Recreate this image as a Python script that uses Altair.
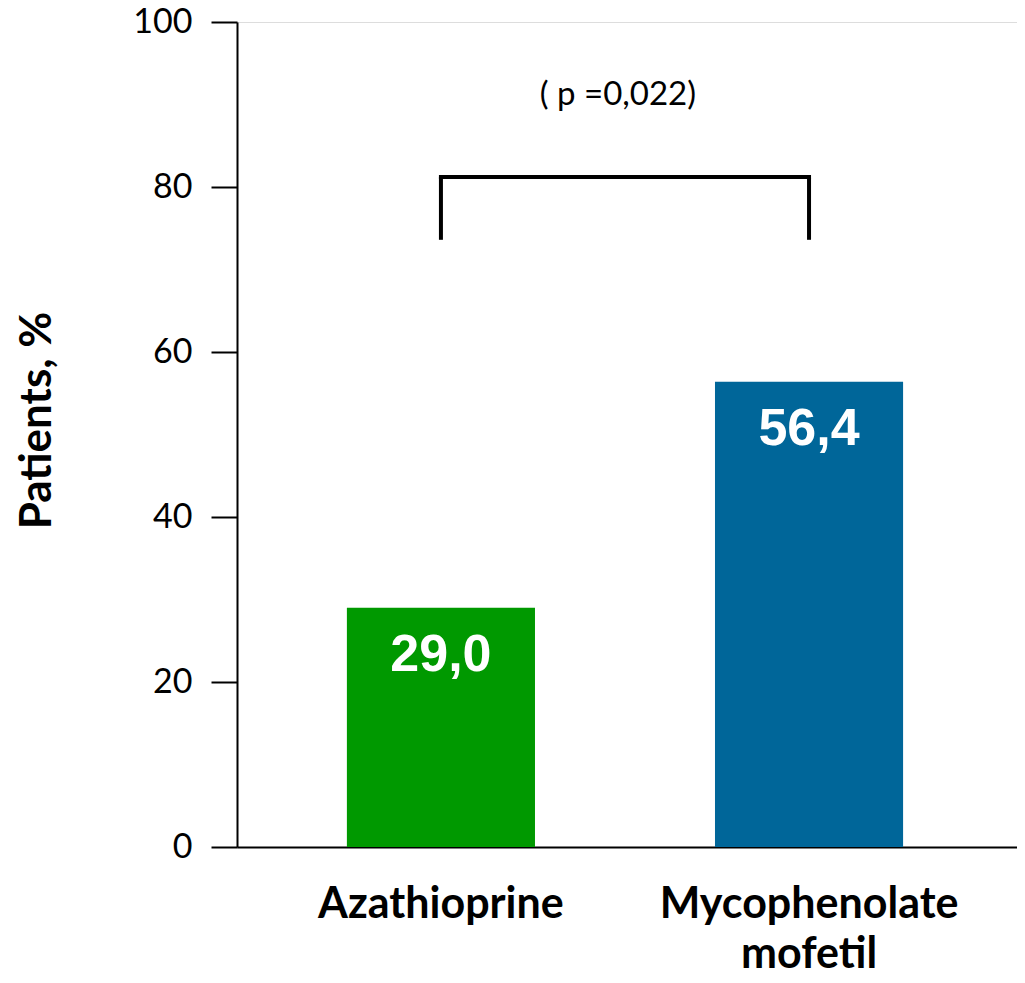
import altair as alt
import pandas as pd

categories = ["Azathioprine", "Mycophenolate mofetil"]
values = [29.0, 56.4]
value_labels = ["29,0", "56,4"]
colors = ["#009900", "#006699"]
y_ticks = [0, 20, 40, 60, 80, 100]
bracket_top = 81.2
bracket_bottom = 73.6
p_label = "( p =0,022)"
p_label_y = 90.0

df = pd.DataFrame({"cat": categories, "value": values, "label": value_labels})
bracket_h = pd.DataFrame({"from": [categories[0]], "to": [categories[1]], "y": [bracket_top]})
bracket_v = pd.DataFrame({"cat": categories, "y": [bracket_bottom] * 2, "y2": [bracket_top] * 2})
ptext = pd.DataFrame({"cat": [categories[0]], "y": [p_label_y], "text": [p_label]})

x_scale = alt.Scale(domain=categories, paddingInner=0.489, paddingOuter=0.304, align=0.491)
y_scale = alt.Scale(domain=[0, 100], nice=False, zero=True)

x_axis = alt.Axis(
    title=None, ticks=False, labelAngle=0,
    labelExpr="split(datum.label, ' ')",
    labelFont="Lato", labelFontWeight="bold", labelFontSize=43, labelColor="black",
    labelBaseline="alphabetic", labelPadding=70, labelLineHeight=50, labelLimit=600,
    domainColor="black", domainWidth=2, grid=False,
)
y_axis = alt.Axis(
    title="Patients, %", values=y_ticks, grid=False,
    titleFont="Lato", titleFontWeight="bold", titleFontSize=44, titleColor="black",
    titleAngle=-90, titleX=-187, titleY=398, titleBaseline="alphabetic", titleAlign="center",
    labelFont="Lato", labelFontSize=34, labelColor="black", labelPadding=19,
    tickSize=26, tickWidth=2, tickColor="black",
    domainColor="black", domainWidth=2,
)

base = alt.Chart(df)

bars = base.mark_bar().encode(
    x=alt.X("cat:N", scale=x_scale, axis=x_axis, sort=categories),
    y=alt.Y("value:Q", scale=y_scale, axis=y_axis),
    color=alt.Color("cat:N", scale=alt.Scale(domain=categories, range=colors), legend=None),
)

bar_text = base.mark_text(
    font="Liberation Sans", fontWeight="bold", fontSize=52, color="white",
    baseline="alphabetic", align="center", dy=63,
).encode(
    x=alt.X("cat:N", sort=categories),
    y="value:Q",
    text="label:N",
)

br_h = alt.Chart(bracket_h).mark_rule(color="black", strokeWidth=4, strokeCap="square").encode(
    x=alt.X("from:N", bandPosition=0.5),
    x2=alt.X2("to", bandPosition=0.5),
    y="y:Q",
)
br_v = alt.Chart(bracket_v).mark_rule(color="black", strokeWidth=4).encode(
    x=alt.X("cat:N", bandPosition=0.5),
    y="y:Q",
    y2="y2",
)
p_txt = alt.Chart(ptext).mark_text(
    font="Lato", fontSize=33, color="black", baseline="alphabetic", align="center", dx=177,
).encode(
    x=alt.X("cat:N", bandPosition=0.5),
    y="y:Q",
    text="text:N",
)

chart = alt.layer(bars, bar_text, br_h, br_v, p_txt).properties(
    width=780, height=825,
    autosize=alt.AutoSizeParams(type="none"),
    padding={"left": 229, "top": 14, "right": 0, "bottom": 128},
).configure_view(stroke=None).configure(background="white")

chart.save("out.html", embed_options={"renderer": "svg", "actions": False})
